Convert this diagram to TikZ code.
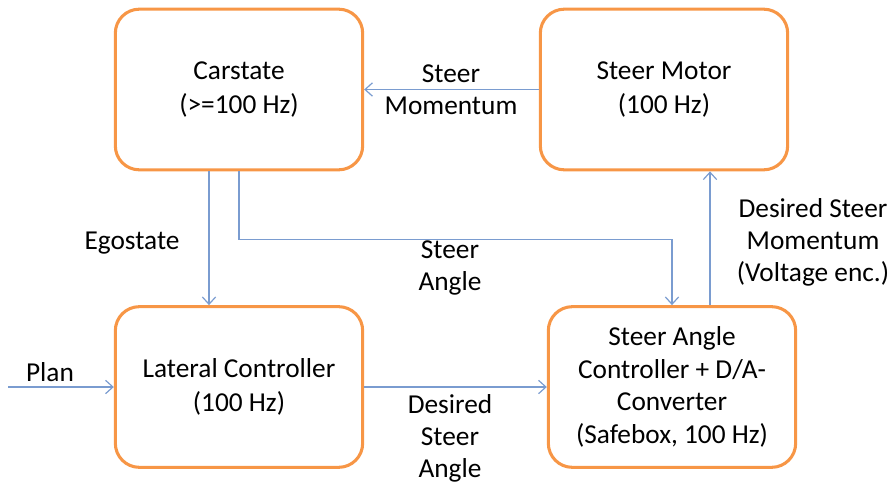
\documentclass[tikz,border=0pt]{standalone}
\usepackage{fontspec}
\setmainfont{Carlito}
\usetikzlibrary{arrows.meta}
\definecolor{boxorange}{HTML}{F79646}
\definecolor{linkblue}{HTML}{7A9CD0}
\begin{document}
\begin{tikzpicture}[x=0.75pt,y=-0.75pt,
  blk/.style={draw=boxorange, line width=2.3pt, rounded corners=18pt,
    minimum width=185.5pt, minimum height=120.5pt, align=center,
    inner sep=0pt, font=\fontsize{20.5}{24.5}\selectfont, text=black},
  twoline/.style={font=\fontsize{20.5}{25.5}\selectfont},
  lbl/.style={align=center, inner sep=0pt, font=\fontsize{20.5}{24}\selectfont, text=black},
  conn/.style={draw=linkblue, line width=1pt,
    -{Straight Barb[length=5.5pt,width=10pt,line width=0.9pt]}}]
\useasboundingbox (0,0) rectangle (893,486);
\node[blk,twoline] (cs)  at (239,89.5) {Carstate\\(>=100 Hz)};
\node[blk,twoline] (sm)  at (664,89.5) {Steer Motor\\(100 Hz)};
\node[blk,twoline] (lat) at (239,387)  {Lateral Controller\\(100 Hz)};
\node[blk] (sac) at (672,387)  {Steer Angle\\Controller + D/A-\\Converter\\(Safebox, 100 Hz)};
\coordinate (planstart) at (8,387);
\draw[conn] (planstart) -- (lat.west);
\node[lbl] (plan) at (50,372) {Plan};
\draw[conn] ([xshift=-22.5pt]cs.south) -- ([xshift=-22.5pt]lat.north);
\node[lbl] (ego) at (132,243) {Egostate};
\draw[conn] (cs.south) -- ++(0,68) -| (sac.north);
\node[lbl] (sa) at (450,268) {Steer\\Angle};
\draw[conn] ([xshift=28.5pt]sac.north) -- ([xshift=28.5pt]sac.north |- sm.south);
\node[lbl] (dsm) at (813,242) {Desired Steer\\Momentum\\(Voltage enc.)};
\draw[conn] (sm.west) -- (cs.east);
\node[lbl] (smom) at (451,90) {Steer\\Momentum};
\draw[conn] (lat.east) -- (sac.west);
\node[lbl] (dsa) at (450,438) {Desired\\Steer\\Angle};
\end{tikzpicture}
\end{document}
